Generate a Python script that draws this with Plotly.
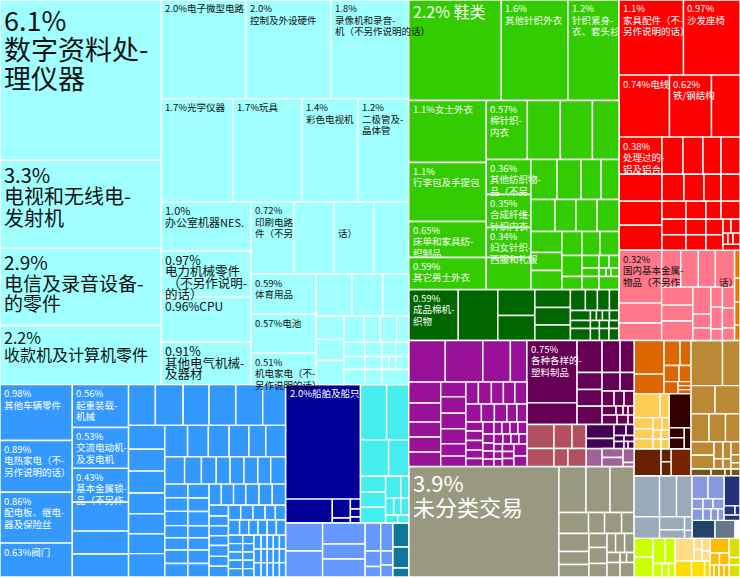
import plotly.graph_objects as go

# Every nested list flips direction: even depth lays out side by side, odd depth stacks.
# A leaf is a number, or (number, label) when the box carries text.
cyan = [
    [(25760, "6.1%<br>数字资料处-<br>理仪器"), (14168, "3.3%<br>电视和无线电-<br>发射机"),
     (12397, "2.9%<br>电信及录音设备-<br>的零件"), (9499, "2.2%<br>收款机及计算机零件")],
    [[(8372, "2.0%电子微型电路"), (8372, "2.0%<br>控制及外设硬件"), (7683, "1.8%<br>录像机和录音-<br>机（不另作说明的话）")],
     [(7416, "1.7%光学仪器"), (7107, "1.7%玩具"), (5768, "1.4%<br>彩色电视机"), (5253, "1.2%<br>二极管及-<br>晶体管")],
     [[(4410, "1.0%<br>办公室机器NES."), (4140, "0.97%<br>电力机械零件<br> （不另作说明-<br>的话）"),
       (4050, "0.96%CPU"), (3825, "0.91%<br>其他电气机械-<br>及器材")],
      [[(3096, "0.72%<br>印刷电路<br>件（不另"), 2880, (2880, "<br><br>话）"), 2520],
       [[(2600, "0.59%<br>体育用品"), (2535, "0.57%电池"), (2048, "0.51%<br>机电家电（不-<br>另作说明的话）")],
        [[1512, 1302, 1092],
         [[644, 588, 672],
          [[520, 429, 429, 312], [294, 238, 196, 182], [273, 221, 91, 91, 169], [315, 255, 405]]]]]]]],
]

blue = [
    [(4032, "0.98%<br>其他车辆零件"), (3744, "0.89%<br>电热家电（不-<br>另作说明的话）"),
     (3672, "0.86%<br>配电板、继电-<br>器及保险丝"), (2448, "0.63%阀门")],
    [(2408, "0.56%<br>起重装载-<br>机械"), (2296, "0.53%<br>交流电动机-<br>及发电机"),
     (1904, "0.43%<br>基本金属锁-<br>品（不另作"), 1624, 1288, 1288],
    [[1094, 1134, 1053, 1094, 1094, 932],
     [[864, 792, 792, 756, 720, 720, 846],
      [[713, 651, 651, 620, 527, 620],
       [540, 459, 405, 378, 378, 378, 351, 405],
       [[319, 312, 329, 281, 281, 312, 312],
        [293, 286, 301, 257, 257, 286, 286],
        [[258, 258, 258, 280, 280, 280],
         [[209, 190, 190, 190, 209, 190, 209],
          [[180, 180, 180, 150, 150],
           [170, 140, 140, 140, 140, 140],
           [[119, 119, 119, 119, 119],
            [94, 94, 94, 94, 94],
            [[98, 84, 84, 84, 84], [98, 84, 84, 84, 84], [101, 87, 87, 87, 87]]]]]]]]]],
]

navy = [(8568, "2.0%船舶及船只"), [1116, [342, 90], [100, 80, 60]]]
aqua = [[1443, 1221], [1022, 730], [[400, 375, 400], [[330, 176], [136, 119, 136], [96, 88]]]]
periwinkle = [[1036, 962], [892, 638, 765], [434, 240, 163], [336, 168, 144]]
steel = [384, 336, 144]

green = [[
    [(9296, "2.2% 鞋类"), (6683, "1.6%<br>其他针织外衣"), (5126, "1.2%<br>针织紧身-<br>衣、套头衫")],
    [[(4805, "1.1%女士外衣"), (4573, "1.1%<br>行李包及手提包"),
      (2790, "0.65%<br>床单和家具纺-<br>织制品"), (2480, "0.59%<br>其它男士外衣")],
     [[(2419, "0.57%<br>棉针织-<br>内衣"), 1947, 1888, 1564],
      [[(1558, "0.36%<br>其他纺织物-<br>品（不另"), (1469, "0.35%<br>合成纤维-<br>针织内衣"),
        (1335, "0.34%<br>妇女针织-<br>西服和礼服"), 1424],
       [[1040, 960, 800, 720],
        [768, 672, 672, 704],
        [[651, 558, 589],
         [[480, 432, 456],
          [[420, 260],
           [[212, 125, 125], [144, 60, 42, 68], [221, 260]]]]]]]]],
]]
dark_green = [(2525, "0.59%<br>成品棉机-<br>织物"), 2015, [962, 925], [639, 621, 550],
              [[315, 252, 252, 200], [200, 60, 60, 70, 95], [160, 72, 76, 80], [240, 108, 114, 120]]]

red = [[
    [(4838, "1.1%<br>家具配件（不-<br>另作说明的话）"), (4238, "0.97%<br>沙发座椅")],
    [(3131, "0.74%电线"), (2604, "0.62%<br>铁/钢结构"), 1767],
    [[(1591, "0.38%<br>处理过的-<br>铝及铝合"), 1161, 1032, 1075],
     [[777, 740, 666, 703],
      [594, 540, 459, 513],
      [432, 360, 270, 342],
      [[372, 372], [310, 310], [264, 264], [[112, 126], [55, 55, 77], 102]]]],
]]
pink = [
    [(2253, "0.32%<br>国内基本金属-<br>物品（不另作"), 850, 744],
    [[703, 648, 629, (703, "<br><br>话）")],
     [[558, 496, 605], [486, 252, 225], [230, 253, 132], [252, 240, 150]]],
]
orange_strip = [154, 132, 127, 85]

purple = [
    [1515, 1556, 1141, 685],
    [[672, 608, 480, 480, 464],
     [375, 412, 388, 375, 312, 262],
     [[275, 286, 264, 253, 264],
      [279, 234, 225, 180, 180],
      [[153, 162, 162, 144, 136],
       [132, 99, 88, 88, 82],
       [[96, 96, 96, 108], [90, 80, 80, 80],
        [[64, 64, 64], [86, 80, 92], [156, 136]]]]]],
]
maroon = [
    [(3125, "0.75%<br>各种各样的-<br>塑料制品"), 1085],
    [800, 425, 417, 458],
    [[576, 448], [333, 259], [180, 150, 150], [126, 63, 45, 54], [142, 104, 57]],
]
rose = [[648, 486], [[432, 336], [252, 324]]]
dark_purple = [[392, 280], [[132, 88], [60, 60], [70, 28, 42]]]
light_purple = [288, [189, 189], [154, 44]]
khaki = [
    (16575, "3.9%<br>未分类交易"),
    [[1242, 1104, 1104],
     [620, 336, 357, 262],
     [[540, 390, 375], [252, 288, 243],
      [[162, 171, 180], [130, 65, 75], [188, 203]]]],
]

orange = [[1005, 585], [[400, 275], [240, 192], [168, [52, 52, 52]]]]
light_orange = [[624, 216], [[209, 190, 190], [[108, 84], [[76, 76], [76, 76]]]]]
dark_brown = [748, [[150, 165], 147]]
brown = [729, [130, 140]]
rust = 540
tan = [[[1418, 788], [672, 700], [504, 462, 406],
        [[310, 310], [153, 90], [136, 80], [117, 72, 54]]]]
dark_tan = [140, 98, 42, 63]
gray_blue = [[1045, 697, 636], [548, [325, 212], [101, 60]]]
lavender = [[368, 368], [110, 100, 110], [126, 92, 80, 69]]
navy2 = [480, [99, 45], 88]
slate = 414
slate2 = 360
lime = [[351, 380], [[300, 250], [122, 88, 88]]]
pale_yellow = [428, [88, 92], [100, 80]]
gold = [264, 208, 88]
amber = [276, [114, 114], [48, 60, 60, 60]]
olive = [209, 82, 132]

# how the groups sit on the page
page = [
    ["cyan",
     [["blue"],
      [["navy", "aqua"], [["periwinkle"], "steel"]]]],
    [[["green", "dark_green"], ["red", [["pink"], "orange_strip"]]],
     [[["purple", ["maroon", [["rose"], ["dark_purple", "light_purple"]]]], "khaki"],
      [[["orange", ["light_orange", "dark_brown"], [["brown"], "rust"]], ["tan", "dark_tan"]],
       ["gray_blue", [["lavender", "navy2"], ["slate", "slate2", 90]]],
       [["lime"], ["pale_yellow", "gold"], "amber", "olive"]]]],
]

groups = {
    "cyan": (cyan, "#A0FFFF", "#111111"), "blue": (blue, "#3399FF", "#FFFFFF"),
    "navy": (navy, "#000099", "#FFFFFF"), "aqua": (aqua, "#44EEEE", "#111111"),
    "periwinkle": (periwinkle, "#6699FF", "#FFFFFF"), "steel": (steel, "#117799", "#FFFFFF"),
    "green": (green, "#33CC00", "#FFFFFF"), "dark_green": (dark_green, "#006600", "#FFFFFF"),
    "red": (red, "#FF0000", "#FFFFFF"), "pink": (pink, "#FF7788", "#111111"),
    "orange_strip": (orange_strip, "#EE7700", "#FFFFFF"), "purple": (purple, "#991199", "#FFFFFF"),
    "maroon": (maroon, "#660055", "#FFFFFF"), "rose": (rose, "#B05060", "#FFFFFF"),
    "dark_purple": (dark_purple, "#440055", "#FFFFFF"), "light_purple": (light_purple, "#A06099", "#FFFFFF"),
    "khaki": (khaki, "#999980", "#FFFFFF"), "orange": (orange, "#DD6600", "#FFFFFF"),
    "light_orange": (light_orange, "#FFCC55", "#111111"), "dark_brown": (dark_brown, "#330000", "#FFFFFF"),
    "brown": (brown, "#662200", "#FFFFFF"), "rust": (rust, "#772200", "#FFFFFF"),
    "tan": (tan, "#BB8833", "#FFFFFF"), "dark_tan": (dark_tan, "#775511", "#FFFFFF"),
    "gray_blue": (gray_blue, "#99AABB", "#FFFFFF"), "lavender": (lavender, "#8899DD", "#FFFFFF"),
    "navy2": (navy2, "#223377", "#FFFFFF"), "slate": (slate, "#224466", "#FFFFFF"),
    "slate2": (slate2, "#667788", "#FFFFFF"), "lime": (lime, "#CCFF00", "#111111"),
    "pale_yellow": (pale_yellow, "#FFDD88", "#111111"), "gold": (gold, "#FFDD00", "#111111"),
    "amber": (amber, "#FFBB00", "#111111"), "olive": (olive, "#DDDD00", "#111111"),
}

# bigger labels, everything else uses small_font
big_fonts = {"6.1%": 27, "3.3%": 20, "2.9%": 19, "2.2%<br>收": 16, "2.2% 鞋": 16, "3.9%": 22,
             "1.0%": 11, "0.97%<br>电": 12.5, "0.96%CPU": 12, "0.91%": 12.5}
small_font = 9.5
font_family = "Noto Sans CJK SC"

ids, parents, values, colors, line_widths, annotations = [], [], [], [], [], []


def total(node):
    if isinstance(node, str):
        node = groups[node][0]
    if isinstance(node, tuple):
        node = node[0]
    return sum(total(c) for c in node) if isinstance(node, list) else node


def add_label(label, x0, y0, text_color):
    # one annotation per line, placed from the box the tree gives, so text can run over like the original
    size = small_font
    for key, big in big_fonts.items():
        if label.startswith(key):
            size = big
    pitch = 11.5 if size <= 13 else 1.07 * size
    pad = max(2.7, 0.18 * size)
    for i, line in enumerate(label.split("<br>")):
        if line:
            annotations.append(dict(
                x=x0, y=y0, xref="paper", yref="paper", xanchor="left", yanchor="middle",
                xshift=3, yshift=-(pad + (i + 0.5) * pitch), text=line, showarrow=False,
                font=dict(family=font_family, size=size, color=text_color), borderpad=0,
            ))


def add(node, parent, color, text_color, box, depth):
    if isinstance(node, str):
        node, color, text_color = groups[node]
    label = ""
    if isinstance(node, tuple):
        node, label = node
    ids.append(f"n{len(ids)}")
    me = ids[-1]
    parents.append(parent)
    colors.append(color)
    x0, y0, x1, y1 = box
    if label:
        add_label(label, x0, y0, text_color)
    if isinstance(node, list):
        values.append(0)
        line_widths.append(0)
        whole = total(node)
        done = 0
        for child in node:
            start = done / whole
            done += total(child)
            end = done / whole
            if depth % 2 == 0:
                sub = (x0 + (x1 - x0) * start, y0, x0 + (x1 - x0) * end, y1)
            else:
                sub = (x0, y0 + (y1 - y0) * start, x1, y0 + (y1 - y0) * end)
            add(child, me, color, text_color, sub, depth + 1)
    else:
        values.append(node)
        line_widths.append(1.4)


# box runs top-down in y: 1 is the top of the plot, 0 the bottom
add(page, "", "#FFFFFF", "#111111", (0, 1, 1, 0), 0)

fig = go.Figure(go.Treemap(
    ids=ids,
    labels=ids,
    parents=parents,
    values=values,
    branchvalues="remainder",
    sort=False,
    textinfo="none",
    hoverinfo="skip",
    tiling=dict(packing="slice-dice", pad=0),
    pathbar=dict(visible=False),
    marker=dict(colors=colors, line=dict(color="#FFFFFF", width=line_widths),
                pad=dict(t=0, l=0, r=0, b=0), depthfade=False),
))
fig.update_layout(width=740, height=579, margin=dict(l=0, r=0, t=0, b=2),
                  paper_bgcolor="#FFFFFF", showlegend=False, annotations=annotations)
fig.write_html("out.html", config={"staticPlot": True},
               post_script="document.body.style.margin='0';")
